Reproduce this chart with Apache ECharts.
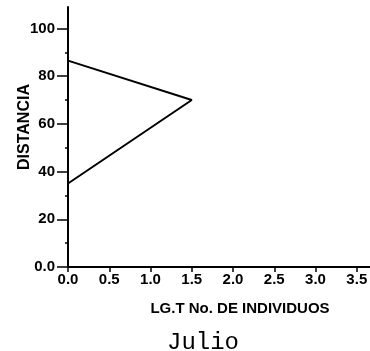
<!DOCTYPE html>
<html>
<head>
<meta charset="utf-8">
<script src="https://cdn.jsdelivr.net/npm/echarts@6/dist/echarts.min.js"></script>
<style>
html,body{margin:0;padding:0;background:#fff;}
#grafica{width:370px;height:351px;}
</style>
</head>
<body>
<div id="grafica"></div>
<script>
// datos (Julio)
var lgt_individuos = [0, 1.5, 0];
var distancia = [86.5, 70, 35];
var ticks_x = [0, 0.5, 1, 1.5, 2, 2.5, 3, 3.5];
var ticks_y = [0, 20, 40, 60, 80, 100];

var puntos = [];
for (var i = 0; i < lgt_individuos.length; i++) {
  puntos.push([lgt_individuos[i], distancia[i]]);
}

var myChart = echarts.init(document.getElementById('grafica'));
var option = {
  animation: false,
  title: {
    text: 'Julio',
    left: 162,
    top: 326,
    textStyle: {
      fontFamily: 'Liberation Mono',
      fontWeight: 'normal',
      fontSize: 24,
      color: '#000'
    }
  },
  grid: {
    left: 68,
    right: 0,
    top: 7,
    bottom: 84,
    containLabel: false,
    outerBoundsMode: 'none'
  },
  xAxis: {
    type: 'value',
    min: 0,
    max: 3.66,
    name: 'LG.T No. DE INDIVIDUOS',
    nameLocation: 'middle',
    nameGap: 34,
    nameMoveOverlap: false,
    nameTextStyle: {
      color: '#000',
      fontFamily: 'Liberation Sans',
      fontWeight: 'bold',
      fontSize: 15,
      padding: [0, 0, 0, 42]
    },
    splitLine: { show: false },
    axisLine: { lineStyle: { color: '#000', width: 2 } },
    axisTick: {
      customValues: ticks_x,
      length: 5,
      lineStyle: { color: '#000', width: 1.5 }
    },
    minorTick: {
      show: true,
      splitNumber: 2,
      length: 3,
      lineStyle: { color: '#000', width: 1.5 }
    },
    axisLabel: {
      customValues: ticks_x,
      margin: 5,
      color: '#000',
      fontFamily: 'Liberation Sans',
      fontWeight: 'bold',
      fontSize: 15,
      formatter: function (v) { return v.toFixed(1); }
    }
  },
  yAxis: {
    type: 'value',
    min: 0,
    max: 109,
    interval: 20,
    name: 'DISTANCIA',
    nameLocation: 'middle',
    nameGap: 35,
    nameMoveOverlap: false,
    nameTextStyle: {
      color: '#000',
      fontFamily: 'Liberation Sans',
      fontWeight: 'bold',
      fontSize: 16,
      padding: [0, 0, 0, 20]
    },
    splitLine: { show: false },
    axisLine: { lineStyle: { color: '#000', width: 2 } },
    axisTick: {
      customValues: ticks_y,
      length: 11,
      lineStyle: { color: '#000', width: 1.5 }
    },
    minorTick: {
      show: true,
      splitNumber: 2,
      length: 3,
      lineStyle: { color: '#000', width: 1.5 }
    },
    axisLabel: {
      customValues: ticks_y,
      margin: 13,
      color: '#000',
      fontFamily: 'Liberation Sans',
      fontWeight: 'bold',
      fontSize: 15,
      formatter: function (v) { return v === 0 ? '0.0' : String(v); }
    }
  },
  series: [
    {
      type: 'line',
      data: puntos,
      symbol: 'none',
      lineStyle: { color: '#000', width: 2 }
    }
  ]
};
myChart.setOption(option);
</script>
</body>
</html>
